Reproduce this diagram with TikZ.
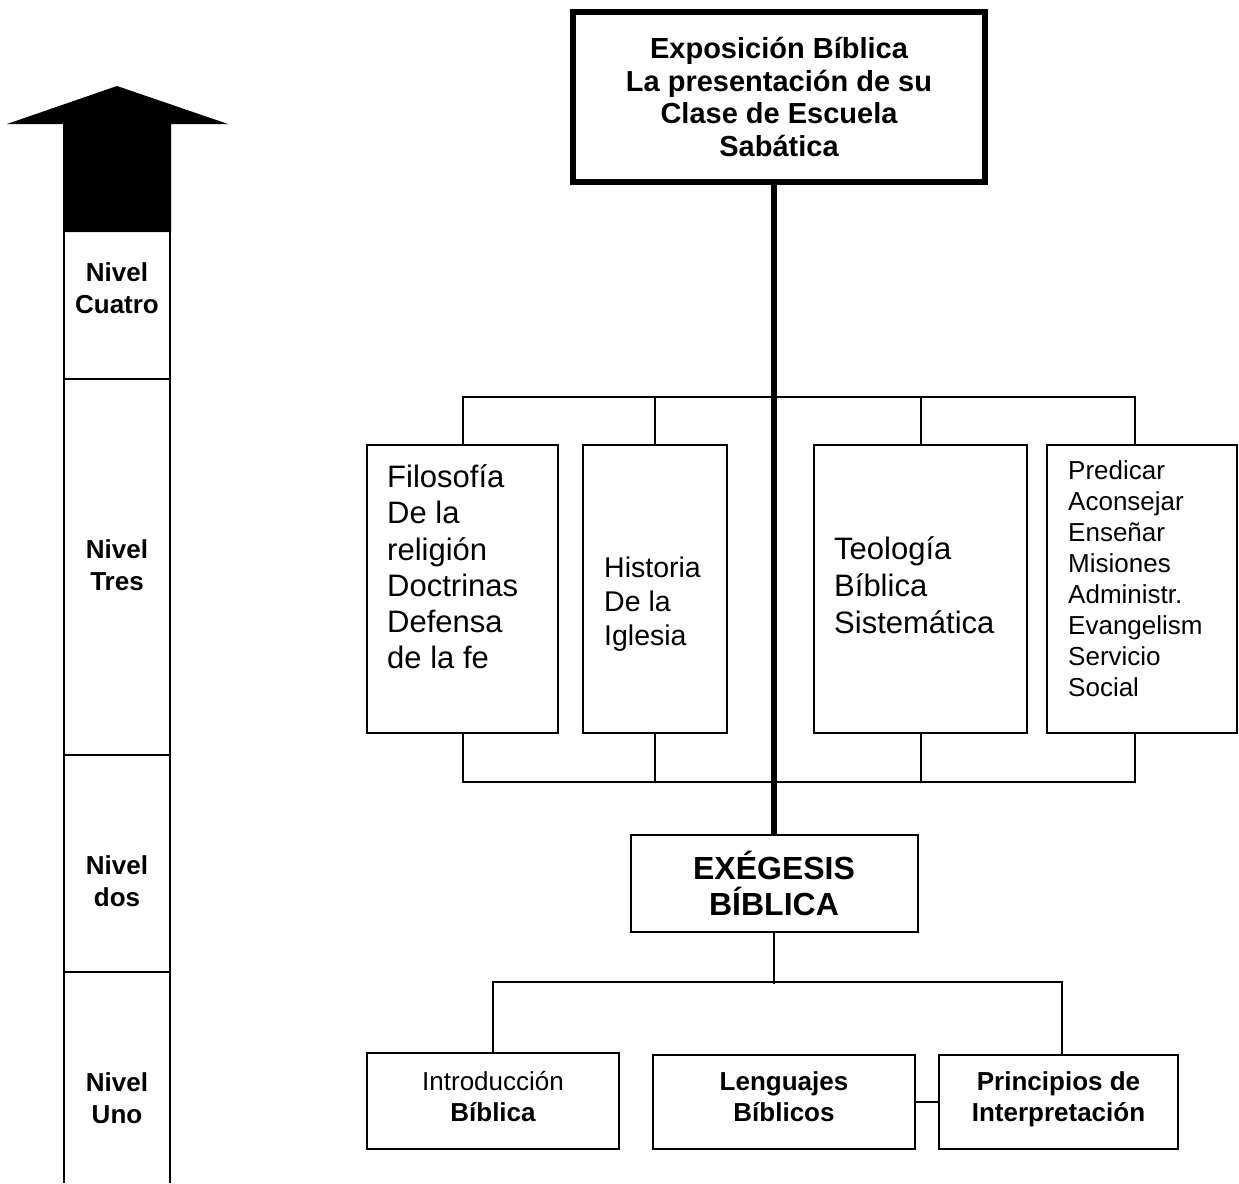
\documentclass[tikz,border=0pt]{standalone}
\usepackage{fontspec}
\setmainfont{Liberation Sans}
\begin{document}
\begin{tikzpicture}[x=1pt,y=-1pt,
  thinl/.style={line width=2pt},
  box/.style={draw, line width=2pt, inner sep=0pt},
  lvl/.style={inner sep=0pt, align=center, font=\bfseries\fontsize{26}{32}\selectfont},
  mtext/.style={inner sep=0pt, align=left, anchor=west},
  btext/.style={align=center, font=\bfseries\fontsize{26}{31}\selectfont}
]
\useasboundingbox (0,0) rectangle (1239,1183);
\fill[white] (0,0) rectangle (1239,1183);

% left level column with arrow
\fill[black] (63,124) -- (7,124) -- (117,86) -- (228,124) -- (171,124) -- (171,232) -- (63,232) -- cycle;
\draw[thinl] (64,231) -- (64,1183) (170,231) -- (170,1183);
\draw[thinl] (64,379) -- (170,379) (64,755) -- (170,755) (64,972) -- (170,972);
\node[lvl] (n4) at (117,288) {Nivel\\Cuatro};
\node[lvl] (n3) at (117,565) {Nivel\\Tres};
\node[lvl] (n2) at (117,881) {Nivel\\dos};
\node[lvl] (n1) at (117,1098) {Nivel\\Uno};

% top box
\node[draw, line width=6pt, minimum width=412pt, minimum height=170pt, inner sep=0pt, align=center,
  font=\bfseries\fontsize{29}{32.5}\selectfont] (expo) at (779,97)
  {Exposición Bíblica\\La presentación de su\\Clase de Escuela\\Sabática};

% middle boxes
\node[box, minimum width=191pt, minimum height=288pt] (fil) at (462.5,589) {};
\node[box, minimum width=144pt, minimum height=288pt] (his) at (655,589) {};
\node[box, minimum width=213pt, minimum height=288pt] (teo) at (920.5,589) {};
\node[box, minimum width=190pt, minimum height=288pt] (pre) at (1142,589) {};

\node[mtext, font=\fontsize{31}{36.2}\selectfont] (filt) at (387,567)
  {Filosofía\\De la\\religión\\Doctrinas\\Defensa\\de la fe};
\node[mtext, font=\fontsize{28.5}{34}\selectfont] (hist) at (604,604)
  {Historia\\De la\\Iglesia};
\node[mtext, font=\fontsize{31}{37}\selectfont] (teot) at (834,585)
  {Teología\\Bíblica\\Sistemática};
\node[mtext, font=\fontsize{26}{31}\selectfont] (pret) at (1068,579)
  {Predicar\\Aconsejar\\Enseñar\\Misiones\\Administr.\\Evangelism\\Servicio\\Social};

% buses
\draw[thinl] (fil.north) -- ++(0,-47) -| ([xshift=-7pt]pre.north);
\draw[thinl] (his.north) -- ++(0,-47);
\draw[thinl] (teo.north) -- ++(0,-47);
\draw[thinl] (fil.south) -- ++(0,48) -| ([xshift=-7pt]pre.south);
\draw[thinl] (his.south) -- ++(0,48);
\draw[thinl] (teo.south) -- ++(0,48);

% exegesis
\node[box, minimum width=287pt, minimum height=97pt, align=center,
  font=\bfseries\fontsize{32}{36}\selectfont] (exe) at (774,883.5) {EXÉGESIS\\BÍBLICA};

\draw[line width=6pt] (expo.south -| exe.north) -- (exe.north);

% bottom boxes
\node[box, minimum width=252pt, minimum height=96pt] (intro) at (493,1101) {};
\node[box, minimum width=262pt, minimum height=94pt] (len) at (784,1102) {};
\node[box, minimum width=239pt, minimum height=94pt] (pri) at (1058.5,1102) {};
\node[btext] (introt) at (493,1097) {\mdseries Introducción\\Bíblica};
\node[btext] (lent) at (784,1097) {Lenguajes\\Bíblicos};
\node[btext] (prit) at (1058.5,1099.5) {Principios de\\Interpretación};

\draw[thinl] (exe.south) -- ++(0,51);
\draw[thinl] (intro.north) -- ++(0,-70) -| ([xshift=3pt]pri.north);
\draw[thinl] (len.east) -- (pri.west);
\end{tikzpicture}
\end{document}
